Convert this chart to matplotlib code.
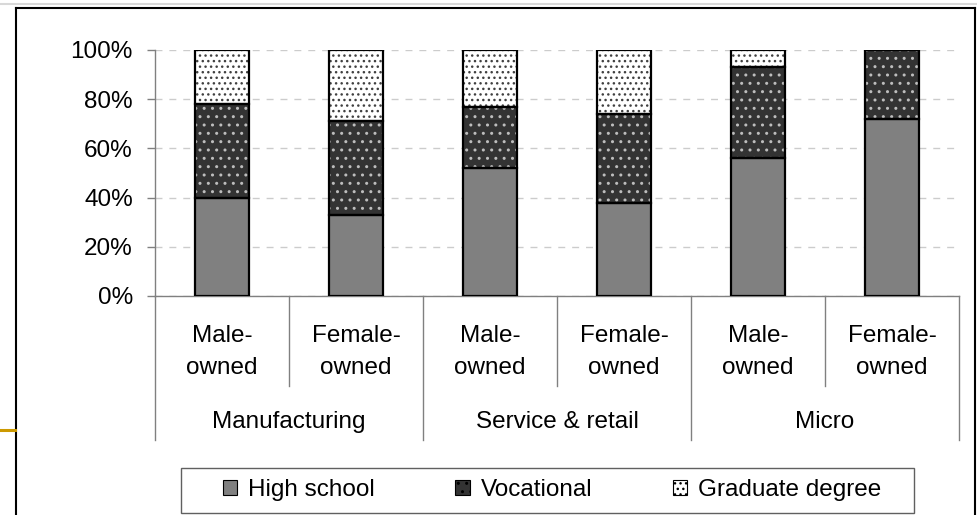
import matplotlib
matplotlib.use("Agg")
import matplotlib.pyplot as plt
from matplotlib.lines import Line2D
from matplotlib.patches import Patch, Rectangle

plt.rcParams["font.family"] = ["Liberation Sans", "DejaVu Sans"]
plt.rcParams["hatch.linewidth"] = 1.0

# data (% of firms by owner education)
sub_labels = ["Male-\nowned", "Female-\nowned"] * 3
groups = ["Manufacturing", "Service & retail", "Micro"]
high_school = [40, 33, 52, 38, 56, 72]
vocational = [38, 38, 25, 36, 37, 28]
graduate = [22, 29, 23, 26, 7, 0]

series = [
    ("High school", high_school, "#808080", "", "#808080"),
    ("Vocational", vocational, "#333333", "..", "#bdbdbd"),
    ("Graduate degree", graduate, "#ffffff", "...", "#404040"),
]

FS = 17.5
W, H = 977, 515
fig = plt.figure(figsize=(W / 100, H / 100), dpi=100)
ax = fig.add_axes([155 / W, 1 - 296 / H, 804 / W, 246 / H])

x = list(range(len(sub_labels)))
bottom = [0] * len(x)
handles = []
for name, vals, face, hatch, hcol in series:
    ax.bar(x, vals, width=0.4, bottom=bottom, color=face, hatch=hatch,
           edgecolor=hcol, linewidth=0, zorder=2)
    ax.bar(x, vals, width=0.4, bottom=bottom, fill=False,
           edgecolor="black", linewidth=1.6, zorder=3)
    handles.append(Patch(facecolor=face, edgecolor="black", hatch=hatch,
                         linewidth=0.8, label=name))
    bottom = [b + v for b, v in zip(bottom, vals)]

ax.set_xlim(-0.5, len(x) - 0.5)
ax.set_ylim(0, 100)
ax.set_yticks(range(0, 101, 20))
ax.set_yticklabels([f"{v}%" for v in range(0, 101, 20)])
ax.tick_params(axis="y", colors="#808080", length=6, width=1, pad=10,
               labelsize=FS, labelcolor="black")
ax.set_xticks([])
ax.yaxis.grid(True, color="#cccccc", linestyle=(0, (5, 5)), linewidth=1)
ax.set_axisbelow(True)
for s in ["top", "right"]:
    ax.spines[s].set_visible(False)
for s in ["left", "bottom"]:
    ax.spines[s].set_color("#808080")
    ax.spines[s].set_linewidth(1)

# category axis: dividers and two-level labels
tr = ax.get_xaxis_transform()
for xb in [-0.5, 1.5, 3.5, 5.5]:
    ax.plot([xb, xb], [0, -0.585], transform=tr, clip_on=False,
            color="#808080", linewidth=1)
for xb in [0.5, 2.5, 4.5]:
    ax.plot([xb, xb], [0, -0.366], transform=tr, clip_on=False,
            color="#808080", linewidth=1)
for xi, lab in zip(x, sub_labels):
    ax.text(xi, -0.228, lab, transform=tr, ha="center", va="center",
            multialignment="center", fontsize=FS, linespacing=1.6)
for i, g in enumerate(groups):
    ax.text(2 * i + 0.5, -0.512, g, transform=tr, ha="center", va="center",
            fontsize=FS)

# legend items, with a separate box drawn around them
fig.legend(handles=handles, loc="center", ncol=3,
           bbox_to_anchor=(552 / W, 1 - 490 / H),
           bbox_transform=fig.transFigure, fontsize=FS,
           handlelength=0.6, handleheight=0.6, handletextpad=0.45,
           columnspacing=3.3, frameon=False)
fig.add_artist(Rectangle((181 / W, 1 - 513 / H), (914 - 181) / W, 45 / H,
                         transform=fig.transFigure, fill=False,
                         edgecolor="#606060", linewidth=1))

# outer chart border and slide remnants
fig.add_artist(Line2D([0, 1], [1 - 4 / H, 1 - 4 / H], color="#d8d8d8", linewidth=1.5))
fig.add_artist(Line2D([16 / W, 975 / W], [1 - 8 / H, 1 - 8 / H], color="black", linewidth=1.5))
fig.add_artist(Line2D([16 / W, 16 / W], [0, 1 - 8 / H], color="black", linewidth=1.5))
fig.add_artist(Line2D([975 / W, 975 / W], [0, 1 - 8 / H], color="black", linewidth=1.5))
fig.add_artist(Line2D([0, 15 / W], [1 - 430 / H, 1 - 430 / H], color="#cc9900", linewidth=2.2))

fig.savefig("out.png", dpi=100)
plt.close(fig)
